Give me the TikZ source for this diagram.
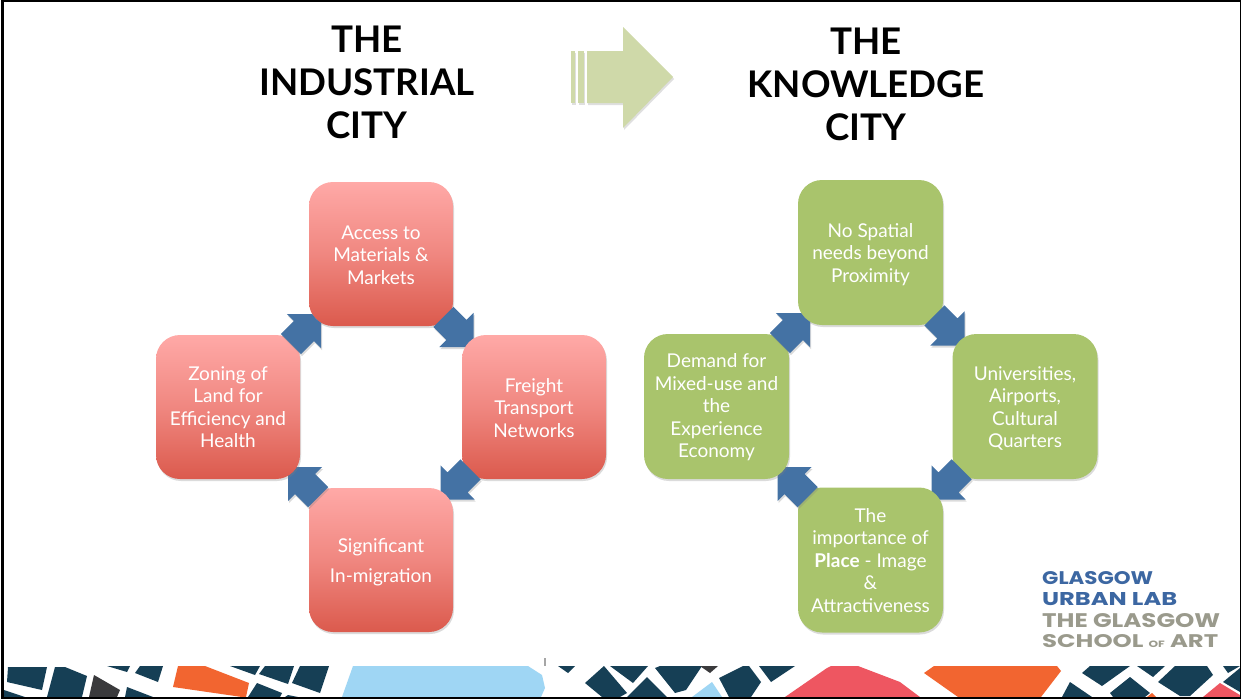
\documentclass[tikz,border=0pt]{standalone}
\usepackage{fontspec}
\usepackage{graphicx}
\setmainfont{Lato}
\newfontfamily\logofont{Poppins}
\usetikzlibrary{shapes.arrows,shadows}
\definecolor{navy}{HTML}{163F55}
\definecolor{bandorange}{HTML}{F26530}
\definecolor{bandblue}{HTML}{9FD6F4}
\definecolor{bandred}{HTML}{EE5661}
\definecolor{bandgray}{HTML}{3A3A3C}
\definecolor{flowblue}{HTML}{4472A4}
\definecolor{leafgreen}{HTML}{A9C46C}
\definecolor{palegreen}{HTML}{CFD9A9}
\definecolor{logoblue}{HTML}{3C67A2}
\definecolor{logogray}{HTML}{9A9A8C}
\definecolor{redtop}{HTML}{FFA9A7}
\definecolor{redmid}{HTML}{F08780}
\definecolor{redbot}{HTML}{DB5A4D}
\newcommand{\cardtext}[2]{\raisebox{0pt}[\dimexpr\height+#1pt\relax][\depth]{\parbox{140pt}{\centering #2}}}
\tikzset{
 softshadow/.style={drop shadow={opacity=.28,shadow xshift=1pt,shadow yshift=-2pt}},
 cardbase/.style={minimum width=144pt,minimum height=144pt,rounded corners=24pt,inner sep=0pt,text=white,
   align=center,font=\fontsize{19}{22.5}\selectfont,softshadow},
 redcard/.style={cardbase,top color=redtop,bottom color=redbot,middle color=redmid},
 greencard/.style={cardbase,fill=leafgreen,minimum width=145pt,minimum height=145pt},
 flow/.style={single arrow,draw=none,fill=flowblue,minimum height=42pt,anchor=tip,
   single arrow head extend=10pt,inner sep=14pt,outer sep=0pt,softshadow},
 title/.style={font=\fontsize{36.7}{43}\selectfont\bfseries,align=center,text=black},
 logotext/.style={anchor=base west,inner sep=0pt,font=\logofont\bfseries},
 palearrow/.style={fill=palegreen,drop shadow={opacity=.25,shadow xshift=1pt,shadow yshift=-2pt}},
}
\begin{document}
\begin{tikzpicture}[x=1pt,y=-1pt]
\useasboundingbox (0,0) rectangle (1243,699);
\fill[white] (0,0) rectangle (1243,699);
% bottom band
\fill[navy] (8,667)--(47,667)--(42,690)--(7,682)--cycle;
\fill[navy] (55,667)--(65,667)--(87,676)--(82,697)--(47,697)--cycle;
\fill[navy] (4,690)--(25,697)--(4,697)--cycle;
\fill[bandgray] (94,675)--(120,690)--(117,697)--(89,697)--cycle;
\fill[navy] (107,666)--(130,666)--(127,672)--cycle;
\fill[navy] (140,666)--(163,666)--(158,682)--(135,673)--cycle;
\fill[navy] (127,687)--(153,697)--(125,697)--cycle;
\fill[bandorange] (178,666)--(205,666)--(249,683)--(246,697)--(242,697)--(173,687)--cycle;
\fill[navy] (230,666)--(260,666)--(255,675)--cycle;
\fill[navy] (265,666)--(294,666)--(288,684)--(259,674)--cycle;
\fill[navy] (300,666)--(329,666)--(320,693)--(292,683)--cycle;
\fill[navy] (257,683)--(282,693)--(280,697)--(248,697)--cycle;
\fill[navy] (288,695)--(298,697)--(285,697)--cycle;
\fill[bandblue] (353,666)--(528,666)--(542,675)--(545,688)--(541,697)--(342,697)--cycle;
\fill[gray!70] (544,658) rectangle (546,666);
\fill[navy] (558,666)--(575,666)--(568,673)--cycle;
\fill[navy] (585,683)--(604,666)--(627,693)--(620,697)--(602,697)--cycle;
\fill[navy] (610,666)--(648,666)--(633,683)--cycle;
\fill[navy] (627,697)--(647,677)--(667,697)--cycle;
\fill[navy] (655,668)--(660,666)--(702,666)--(686,690)--(675,693)--cycle;
\fill[bandgray] (700,666)--(718,666)--(710,673)--cycle;
\fill[bandblue] (692,697)--(712,682)--(722,697)--cycle;
\fill[navy] (719,678)--(743,666)--(749,666)--(761,682)--(751,697)--(729,697)--cycle;
\fill[navy] (759,666)--(795,666)--(771,682)--cycle;
\fill[bandred] (785,697)--(827,668)--(831,666)--(858,666)--(900,682)--(920,697)--cycle;
\fill[bandorange] (924,673)--(934,666)--(1057,666)--(1061,671)--(1041,697)--(958,697)--cycle;
\fill[navy] (1082,673)--(1090,666)--(1130,666)--(1102,686)--cycle;
\fill[navy] (1062,697)--(1070,682)--(1092,697)--cycle;
\fill[navy] (1137,666)--(1165,666)--(1153,677)--cycle;
\fill[navy] (1110,693)--(1130,677)--(1150,693)--(1145,697)--(1113,697)--cycle;
\fill[bandorange] (1147,697)--(1152,693)--(1156,697)--cycle;
\fill[navy] (1158,682)--(1175,666)--(1207,666)--(1213,675)--(1190,696)--(1180,696)--cycle;
\fill[navy] (1223,666)--(1240,666)--(1228,673)--cycle;
\fill[navy] (1223,682)--(1240,668)--(1240,692)--cycle;
\fill[bandred] (1203,697)--(1220,683)--(1240,695)--(1240,697)--cycle;
% frame
\draw[black,line width=3pt] (2.5,1.5)--(2.5,697.5);
\draw[black,line width=2pt] (1,1)--(1241,1);
\draw[black,line width=1.5pt] (1240.5,1)--(1240.5,697.5);
\draw[black,line width=2pt] (1,698)--(1241,698);
% titles
\node[title] (tleft) at (367,82.5) {THE\\INDUSTRIAL\\CITY};
\node[title] (tright) at (866,84) {THE\\KNOWLEDGE\\CITY};
% pale arrow
\fill[palearrow] (587,51)--(623,51)--(623,27)--(673,77)--(623,128)--(623,103)--(587,103)--cycle;
\fill[palearrow] (578,51) rectangle (584,103);
\fill[palearrow] (571,51) rectangle (575,103);
% left cycle: each arrow's tail lies over its source card, its tip under the next card
\node[redcard] (a1) at (381,254) {\cardtext{2}{Access to\\Materials \&\\Markets}};
\node[flow,rotate=-45] (f2) at (473.5,347) {};
\node[redcard] (a2) at (534,407) {\cardtext{2}{Freight\\Transport\\Networks}};
\node[flow,rotate=-135] (f3) at (440.5,499.5) {};
\node[redcard] (a3) at (381,560) {\cardtext{4}{Significant\\[8pt]In-migration}};
\node[flow,rotate=135] (f4) at (288,467) {};
\node[redcard] (a4) at (228,407) {\cardtext{0}{Zoning of\\Land for\\Efficiency and\\Health}};
\begin{scope}
\clip (270,290)--(309,290)--(309,302) .. controls (309,315.25) and (319.75,326) .. (333,326)--(345,326)--(345,370)--(270,370)--cycle;
\node[flow,rotate=45] (f1) at (321,314) {};
\end{scope}
% right cycle
\node[greencard] (b1) at (870.5,252.5) {\cardtext{4}{No Spatial\\needs beyond\\Proximity}};
\node[flow,rotate=-45] (g2) at (964.5,345.5) {};
\node[greencard] (b2) at (1025,406.5) {\cardtext{4}{Universities,\\Airports,\\Cultural\\Quarters}};
\node[flow,rotate=-135] (g3) at (931.5,499.5) {};
\node[greencard] (b3) at (870.5,560) {\cardtext{1}{The\\importance of\\\textbf{Place} - Image\\\&\\Attractiveness}};
\node[flow,rotate=135] (g4) at (777.5,467) {};
\node[greencard] (b4) at (716.5,406.5) {\cardtext{2}{Demand for\\Mixed-use and\\the\\Experience\\Economy}};
\begin{scope}
\clip (760,290)--(798,290)--(798,301) .. controls (798,314.25) and (808.75,325) .. (822,325)--(835,325)--(835,370)--(760,370)--cycle;
\node[flow,rotate=45] (g1) at (810,313) {};
\end{scope}
% logo
\node[logotext,text=logoblue] (l1) at (1042,584) {\resizebox{111pt}{13pt}{GLASGOW}};
\node[logotext,text=logoblue] (l2) at (1042,605) {\resizebox{135pt}{13pt}{URBAN LAB}};
\node[logotext,text=logogray] (l3) at (1042,627) {\resizebox{178pt}{14pt}{THE GLASGOW}};
\node[logotext,text=logogray] (l4) at (1042,647) {\resizebox{176pt}{13pt}{SCHOOL {\tiny OF} ART}};
\end{tikzpicture}
\end{document}
